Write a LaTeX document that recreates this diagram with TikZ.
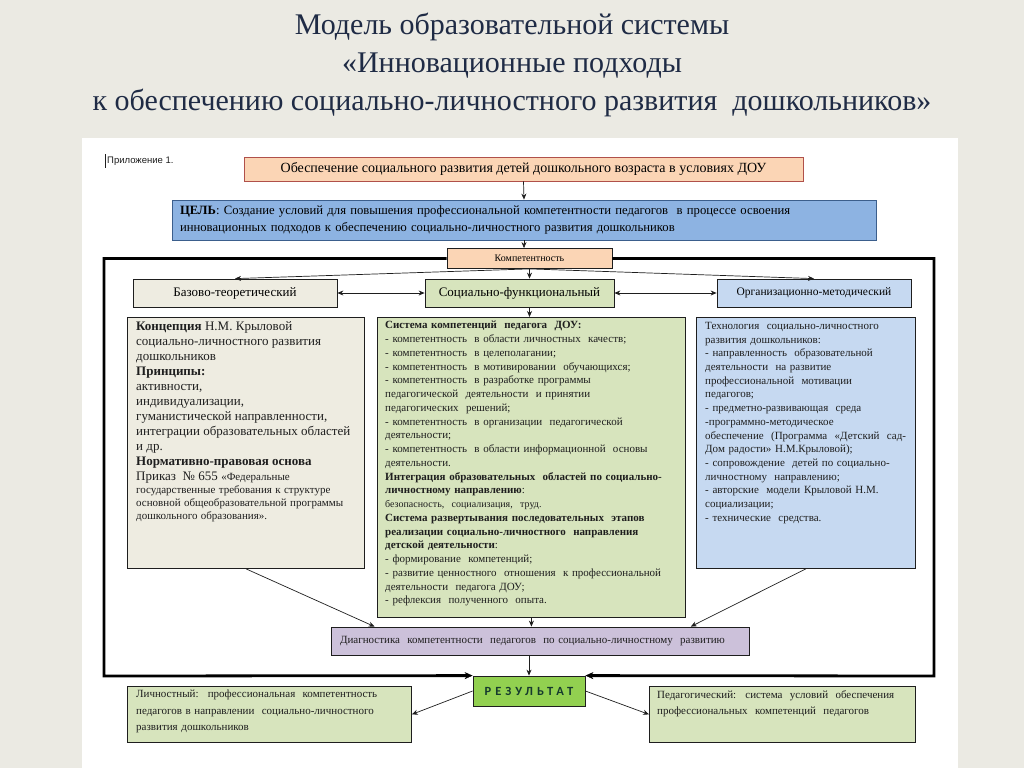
\documentclass[tikz,border=0pt]{standalone}
\usepackage{fontspec}
\setmainfont{Liberation Serif}
\newfontfamily\notefont{Liberation Sans}
\newfontfamily\resultfont[LetterSpace=32]{Carlito}
\usetikzlibrary{arrows.meta,calc}

\definecolor{pagebg}{HTML}{EBEAE3}
\definecolor{titleink}{HTML}{1F2B45}
\definecolor{ink}{HTML}{1E1E1E}
\definecolor{peach}{HTML}{FBD5B5}
\definecolor{redline}{HTML}{B0504A}
\definecolor{goalblue}{HTML}{8DB3E2}
\definecolor{blueline}{HTML}{3B5E8C}
\definecolor{beige}{HTML}{EEECE1}
\definecolor{lightgreen}{HTML}{D7E4BD}
\definecolor{lightblue}{HTML}{C6D9F1}
\definecolor{lavender}{HTML}{CCC1DA}
\definecolor{resgreen}{HTML}{92D050}
\definecolor{resink}{HTML}{163A2E}

\begin{document}
\begin{tikzpicture}[x=1pt, y=-1pt,
    box/.style={draw=ink, line width=0.8pt, inner sep=0pt},
    boxtext/.style={anchor=north west, inner sep=0pt, align=left, text=ink},
    link/.style={draw=ink, line width=0.7pt, -{Stealth[length=6pt,width=5pt]}},
    both/.style={draw=ink, line width=0.7pt, {Stealth[length=6pt,width=5pt]}-{Stealth[length=6pt,width=5pt]}},
    frame/.style={draw=black, line width=2.8pt, -{Stealth[length=8pt,width=7pt,line width=0.4pt]}}]

    % page
    \fill[pagebg] (0,0) rectangle (1024,768);
    \fill[white] (82,138) rectangle (958,768);
    \useasboundingbox (0,0) rectangle (1024,768);

    \node (title) [align=center, text=titleink, font=\fontsize{30}{38}\selectfont] at (512,65)
        {Модель образовательной системы\\«Инновационные подходы\\к обеспечению социально-личностного развития~~дошкольников»};

    \draw[ink, line width=0.5pt] (105,154) -- (105,168);
    \node (note) [anchor=west, inner sep=0pt, text=ink, font=\notefont\fontsize{9.5}{11}\selectfont] at (107,161) {Приложение 1.};

    % top boxes
    \node (provide) [box, draw=redline, fill=peach, minimum width=559pt, minimum height=24pt,
        font=\fontsize{14}{16}\selectfont] at (523.5,169)
        {Обеспечение социального развития детей дошкольного возраста в условиях ДОУ};
    \node (goal) [box, draw=blueline, fill=goalblue, minimum width=704pt, minimum height=40pt,
        text width=688pt, align=left, font=\fontsize{12.7}{17}\selectfont] at (524,220)
        {\textbf{ЦЕЛЬ}: Создание условий для повышения профессиональной компетентности педагогов~ в процессе освоения\\
         инновационных подходов к обеспечению социально-личностного развития дошкольников};
    \node (komp) [box, fill=peach, minimum width=165pt, minimum height=20pt,
        font=\fontsize{10}{12}\selectfont] at (529.5,258.5) {Компетентность};

    % three directions
    \node (base) [box, fill=beige, minimum width=204pt, minimum height=28pt,
        font=\fontsize{13}{15}\selectfont] at (235,293) {Базово-теоретический};
    \node (social) [box, fill=lightgreen, minimum width=189pt, minimum height=28pt,
        font=\fontsize{13}{15}\selectfont] at (519.5,293) {Социально-функциональный};
    \node (method) [box, fill=lightblue, minimum width=194pt, minimum height=28pt,
        font=\fontsize{11.5}{14}\selectfont] at (814,293) {Организационно-методический};

    % contents
    \node (concept) [box, fill=beige, minimum width=237pt, minimum height=251pt, anchor=north west] at (127,317) {};
    \node (system) [box, fill=lightgreen, minimum width=308pt, minimum height=300pt, anchor=north west] at (377,317) {};
    \node (techno) [box, fill=lightblue, minimum width=219pt, minimum height=251pt, anchor=north west] at (696,317) {};

    \node (conceptText) [boxtext, text width=300pt] at (136,321)
        {\fontsize{13}{15}\selectfont
         \textbf{Концепция} Н.М. Крыловой\\
         социально-личностного развития\\
         дошкольников\\
         \textbf{Принципы:}\\
         активности,\\
         индивидуализации,\\
         гуманистической направленности,\\
         интеграции образовательных областей\\
         и др.\\
         \textbf{Нормативно-правовая основа}\\
         Приказ~ №~655 {\fontsize{11}{13}\selectfont «Федеральные}\par
         {\fontsize{11}{13}\selectfont
         государственные требования к структуре\\
         основной общеобразовательной программы\\
         дошкольного образования».\par}};

    \node (systemText) [boxtext, text width=320pt, font=\fontsize{11}{13.75}\selectfont] at (385,321)
        {\textbf{Система компетенций~ педагога~ ДОУ:}\\
         - компетентность~ в области личностных~ качеств;\\
         - компетентность~ в целеполагании;\\
         - компетентность~ в мотивировании~ обучающихся;\\
         - компетентность~ в разработке программы\\
         педагогической~ деятельности~ и принятии\\
         педагогических~ решений;\\
         - компетентность~ в организации~ педагогической\\
         деятельности;\\
         - компетентность~ в области информационной~ основы\\
         деятельности.\\
         \textbf{Интеграция образовательных~ областей по социально-}\\
         \textbf{личностному направлению}:\\
         {\fontsize{10}{13.75}\selectfont безопасность,~ социализация,~ труд.}\\
         \textbf{Система развертывания последовательных~ этапов}\\
         \textbf{реализации социально-личностного~ направления}\\
         \textbf{детской деятельности}:\\
         - формирование~ компетенций;\\
         - развитие ценностного~ отношения~ к профессиональной\\
         деятельности~ педагога ДОУ;\\
         - рефлексия~ полученного~ опыта.};

    \node (technoText) [boxtext, text width=260pt, font=\fontsize{11}{13.7}\selectfont] at (705,322)
        {Технология~ социально-личностного\\
         развития дошкольников:\\
         - направленность~ образовательной\\
         деятельности~ на развитие\\
         профессиональной~ мотивации\\
         педагогов;\\
         - предметно-развивающая~ среда\\
         -программно-методическое\\
         обеспечение~ (Программа~ «Детский~ сад-\\
         Дом радости» Н.М.Крыловой);\\
         - сопровождение~ детей по социально-\\
         личностному~ направлению;\\
         - авторские~ модели Крыловой Н.М.\\
         социализации;\\
         - технические~ средства.};

    \node (diag) [box, fill=lavender, minimum width=418pt, minimum height=28pt, text width=400pt,
        align=left, text=ink, font=\fontsize{11}{13}\selectfont] at (540,641)
        {Диагностика~ компетентности~ педагогов~ по социально-личностному~ развитию};

    % result
    \node (result) [box, fill=resgreen, minimum width=112pt, minimum height=30pt, text=resink,
        font=\resultfont\bfseries\fontsize{12.5}{14}\selectfont] at (529,691) {РЕЗУЛЬТАТ};
    \node (personal) [box, fill=lightgreen, minimum width=284pt, minimum height=56pt, anchor=north west] at (127,686) {};
    \node (personalText) [boxtext, text width=300pt, font=\fontsize{11}{16.5}\selectfont] at (136,690)
        {Личностный:~ профессиональная~ компетентность\\
         педагогов в направлении~ социально-личностного\\
         развития дошкольников};
    \node (pedagog) [box, fill=lightgreen, minimum width=266pt, minimum height=56pt, anchor=north west] at (649,686) {};
    \node (pedagogText) [boxtext, text width=280pt, font=\fontsize{11}{16.5}\selectfont] at (657,690)
        {Педагогический:~ система~ условий~ обеспечения\\
         профессиональных~ компетенций~ педагогов};

    % frame
    \draw[frame] (komp.west) -- (104,258.5) -- (104,676) -- (result.north west);
    \draw[frame] (komp.east) -- (934,258.5) -- (934,676) -- (result.north east);

    % connectors
    \draw[link] (provide.south) -- (goal.north);
    \draw[link] (goal.south) -- (goal.south |- komp.north);
    \draw[link] (komp.south) -- (base.north);
    \draw[link] (komp.south) -- (komp.south |- social.north);
    \draw[link] (komp.south) -- (method.north);
    \draw[both] (base.east) -- (social.west);
    \draw[both] (social.east) -- (method.west);
    \draw[link] (komp.south |- social.south) -- (komp.south |- system.north);
    \draw[link] (concept.south) -- ($(diag.north west)!0.105!(diag.north east)$);
    \draw[link] (system.south) -- (system.south |- diag.north);
    \draw[link] (techno.south) -- ($(diag.north east)!0.14!(diag.north west)$);
    \draw[link] (result.north |- diag.south) -- (result.north);
    \draw[link] (result.west) -- (personal.east);
    \draw[link] (result.east) -- (pedagog.west);
\end{tikzpicture}
\end{document}
